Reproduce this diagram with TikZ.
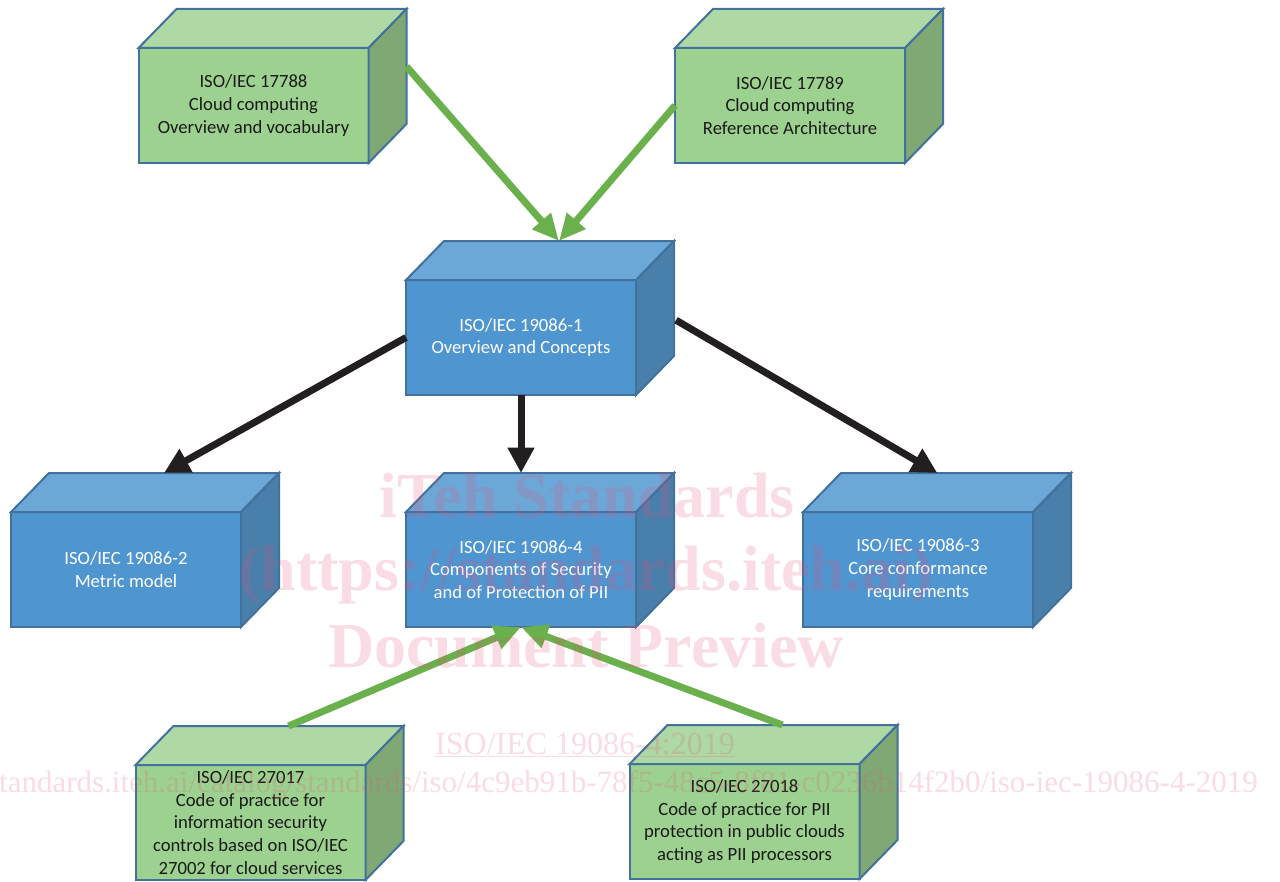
\documentclass[tikz,border=0pt]{standalone}
\usepackage{fontspec}
\setmainfont{Carlito}
\newfontfamily\wmfont{Liberation Serif}
\usetikzlibrary{arrows.meta,calc}
\definecolor{bfront}{HTML}{4F95D0}
\definecolor{btop}{HTML}{6BA8D8}
\definecolor{bside}{HTML}{487FAB}
\definecolor{gfront}{HTML}{9DD18F}
\definecolor{gtop}{HTML}{AED8A4}
\definecolor{gside}{HTML}{80A874}
\definecolor{bord}{HTML}{41719C}
\definecolor{gtext}{HTML}{1A1A1A}
\definecolor{agreen}{HTML}{6AB04C}
\definecolor{ablack}{HTML}{231F20}
\definecolor{wmpink}{RGB}{230,80,120}
\tikzset{
  cub/.style={draw=bord, line width=1.5pt, minimum width=172.5pt, minimum height=86.25pt,
    inner sep=0pt, outer sep=0pt, align=center, font=\fontsize{14}{17}\selectfont},
  bluebox/.style={cub, fill=bfront, text=white},
  greenbox/.style={cub, fill=gfront, text=gtext},
  faceedge/.style={draw=bord, line width=1.5pt},
  arr/.style={line width=5.25pt},
  garr/.style={arr, draw=agreen, -{Triangle[length=20pt,width=17.5pt]}},
  karr/.style={arr, draw=ablack, -{Triangle[length=19pt,width=19pt]}},
  wm/.style={text=wmpink, opacity=0.2, inner sep=0pt},
  wmbig/.style={wm, anchor=base, font=\wmfont\bfseries\fontsize{48}{50}\selectfont},
}
\newcommand\cubfaces[3]{%
  \draw[faceedge, fill=#2] (#1.north west) -- ++(28.5pt,29.25pt) -- ++(172.5pt,0pt) -- (#1.north east) -- cycle;
  \draw[faceedge, fill=#3] (#1.north east) -- ++(28.5pt,29.25pt) -- ++(0pt,-86.25pt) -- (#1.south east) -- cycle;
  \coordinate (#1-tb) at ($(#1.north)+(28.5pt,29.25pt)$);
  \coordinate (#1-rb) at ($(#1.east)+(28.5pt,29.25pt)$);
}
\begin{document}
\begin{tikzpicture}[x=0.75pt,y=-0.75pt]
\path[use as bounding box] (0,0) rectangle (1280,881);
\clip (0,0) rectangle (1280,881);
\fill[white] (0,0) rectangle (1280,881);

% boxes
\node[greenbox] (a) at (253.5,105.5) {ISO/IEC 17788\\Cloud computing\\Overview and vocabulary};
\cubfaces{a}{gtop}{gside}
\node[greenbox] (b) at (790,105.5) {ISO/IEC 17789\\Cloud computing\\Reference Architecture};
\cubfaces{b}{gtop}{gside}
\node[bluebox] (n1) at (521,337.5) {ISO/IEC 19086-1\\Overview and Concepts};
\cubfaces{n1}{btop}{bside}
\node[bluebox] (n2) at (126,569.5) {ISO/IEC 19086-2\\Metric model};
\cubfaces{n2}{btop}{bside}
\node[bluebox] (n4) at (521,569.5) {ISO/IEC 19086-4\\Components of Security\\and of Protection of PII};
\cubfaces{n4}{btop}{bside}
\node[bluebox] (n3) at (918,569.5) {ISO/IEC 19086-3\\Core conformance\\requirements};
\cubfaces{n3}{btop}{bside}
\node[greenbox] (c) at (250.5,822.5) {ISO/IEC 27017\\Code of practice for\\information security\\controls based on ISO/IEC\\27002 for cloud services};
\cubfaces{c}{gtop}{gside}
\node[greenbox] (d) at (744.5,821.5) {ISO/IEC 27018\\Code of practice for PII\\protection in public clouds\\acting as PII processors};
\cubfaces{d}{gtop}{gside}

% connectors
\draw[garr] (a-rb) -- (n1-tb);
\draw[garr] (b.west) -- (n1-tb);
\draw[karr] (n1.west) -- (n2-tb);
\draw[karr] (n1.south) -- ($(n4.north)+(0pt,29.25pt)$);
\draw[karr] ($(n1.east)+(30pt,13pt)$) -- ($(n3-tb)+(-14pt,0pt)$);
\draw[garr] (c-tb) -- (n4.south);
\draw[garr] (d-tb) -- (n4.south);

% watermark
\node[wmbig] (w1) at (587,517) {iTeh Standards};
\node[wmbig] (w2) at (586,590) {(https://standards.iteh.ai)};
\node[wmbig] (w3) at (586,667) {Document Preview};
\node[wm, anchor=base, font=\wmfont\fontsize{24}{26}\selectfont] (w4) at (585,754) {ISO/IEC 19086-4:2019};
\draw[draw=wmpink, opacity=0.2, line width=1.1pt] ($(w4.base west)+(0,2.5)$) -- ($(w4.base east)+(0,2.5)$);
\node[wm, anchor=base east, font=\wmfont\fontsize{23.25}{25}\selectfont] (w5) at (1258,792) {https://standards.iteh.ai/catalog/standards/iso/4c9eb91b-78f5-48c5-8f81-c0236b14f2b0/iso-iec-19086-4-2019};
\end{tikzpicture}
\end{document}
